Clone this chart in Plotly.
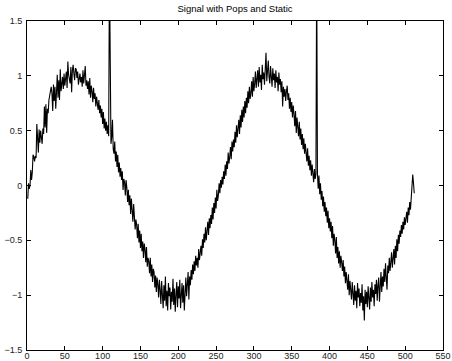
import plotly.graph_objects as go

title_text = "Signal with Pops and Static"

signal = [
    -0.12, 0.02, -0.03, 0.00, 0.14, 0.05, 0.12, 0.28, 0.26, 0.22, 0.27, 0.25, 0.56, 0.38, 0.30, 0.51,
    0.39, 0.50, 0.42, 0.38, 0.52, 0.47, 0.72, 0.53, 0.74, 0.48, 0.70, 0.66, 0.78, 0.82, 0.86, 0.90,
    0.84, 0.68, 0.92, 0.77, 0.90, 0.70, 0.85, 1.01, 0.80, 0.96, 0.78, 1.06, 0.86, 0.95, 0.99, 0.88,
    1.02, 0.91, 0.97, 1.04, 0.89, 1.13, 1.01, 0.98, 0.93, 1.08, 0.85, 1.05, 1.10, 1.02, 0.96, 1.07,
    1.06, 0.98, 1.04, 0.92, 0.97, 1.02, 0.94, 0.99, 0.90, 1.05, 0.93, 1.00, 1.09, 0.91, 0.96, 0.88,
    0.95, 0.83, 0.98, 0.80, 0.91, 0.86, 0.76, 0.89, 0.79, 0.84, 0.72, 0.81, 0.75, 0.69, 0.78, 0.66,
    0.73, 0.62, 0.70, 0.56, 0.67, 0.52, 0.61, 0.50, 0.58, 0.47, 0.55, 0.45, 2.00, 0.52, 0.38, 0.44,
    0.60, 0.33, 0.29, 0.40, 0.22, 0.31, 0.17, 0.28, 0.12, 0.21, 0.08, 0.16, 0.05, 0.13, -0.04, 0.06,
    0.03, -0.09, 0.05, -0.02, -0.15, -0.04, -0.18, -0.09, -0.26, -0.12, -0.21, -0.33, -0.17, -0.29, -0.40, -0.31,
    -0.36, -0.48, -0.35, -0.52, -0.41, -0.57, -0.44, -0.60, -0.51, -0.66, -0.53, -0.58, -0.70, -0.56, -0.74, -0.66,
    -0.69, -0.80, -0.66, -0.83, -0.72, -0.88, -0.76, -0.79, -0.93, -0.82, -0.97, -0.84, -0.90, -1.02, -0.86, -0.95,
    -1.08, -0.87, -0.99, -1.12, -0.91, -1.05, -0.83, -1.10, -0.96, -1.14, -0.89, -1.01, -0.93, -1.13, -0.97, -1.06,
    -0.85, -1.09, -0.94, -1.15, -1.00, -0.88, -1.11, -0.92, -1.03, -0.86, -1.12, -0.95, -0.89, -1.07, -0.91, -1.14,
    -0.96, -0.84, -1.01, -0.88, -0.79, -1.04, -0.83, -0.91, -0.77, -0.86, -0.72, -0.81, -0.69, -0.78, -0.64, -0.73,
    -0.66, -0.75, -0.58, -0.68, -0.61, -0.55, -0.64, -0.49, -0.57, -0.44, -0.52, -0.38, -0.50, -0.41, -0.33, -0.45,
    -0.30, -0.39, -0.27, -0.35, -0.20, -0.31, -0.16, -0.25, -0.11, -0.21, -0.04, -0.14, -0.09, 0.02, -0.07, 0.05,
    -0.02, 0.08, 0.01, 0.13, 0.06, 0.19, 0.09, 0.22, 0.15, 0.30, 0.20, 0.26, 0.35, 0.24, 0.40, 0.31,
    0.42, 0.35, 0.49, 0.39, 0.55, 0.44, 0.51, 0.60, 0.47, 0.64, 0.53, 0.69, 0.58, 0.72, 0.62, 0.77,
    0.66, 0.80, 0.71, 0.86, 0.75, 0.90, 0.79, 0.84, 0.95, 0.81, 0.99, 0.86, 0.93, 1.04, 0.89, 0.97,
    1.05, 0.90, 1.08, 0.94, 1.01, 0.87, 1.10, 0.97, 1.03, 0.92, 1.12, 1.21, 0.95, 1.06, 1.14, 0.99,
    0.93, 1.09, 1.00, 0.90, 1.07, 0.96, 1.02, 0.89, 1.05, 0.94, 0.99, 0.86, 1.03, 0.92, 0.97, 0.85,
    0.95, 0.72, 0.90, 0.81, 0.88, 0.77, 0.86, 0.91, 0.78, 0.84, 0.70, 0.80, 0.67, 0.76, 0.62, 0.73,
    0.65, 0.54, 0.68, 0.48, 0.62, 0.55, 0.45, 0.58, 0.42, 0.52, 0.37, 0.47, 0.33, 0.43, 0.29, 0.38,
    0.31, 0.22, 0.34, 0.18, 0.27, 0.14, 0.23, 0.09, 0.19, 0.12, 0.03, 0.15, 0.06, 0.10, 2.00, 0.11,
    -0.03, 0.09, -0.08, 0.02, -0.13, -0.05, -0.19, -0.10, -0.24, -0.15, -0.28, -0.20, -0.34, -0.23, -0.39, -0.30,
    -0.42, -0.33, -0.48, -0.37, -0.55, -0.44, -0.50, -0.62, -0.47, -0.66, -0.56, -0.71, -0.60, -0.75, -0.64, -0.70,
    -0.78, -0.68, -0.83, -0.74, -0.89, -0.79, -0.85, -0.95, -0.81, -1.00, -0.87, -0.93, -1.04, -0.88, -0.97, -1.09,
    -0.91, -1.05, -0.96, -1.12, -0.89, -1.02, -0.94, -1.10, -0.98, -1.07, -0.90, -1.14, -1.01, -1.23, -0.95, -1.08,
    -0.97, -1.11, -0.92, -1.04, -1.13, -0.93, -1.06, -0.88, -1.02, -0.95, -1.10, -0.90, -0.99, -0.86, -1.05, -0.91,
    -0.84, -1.06, -0.88, -0.79, -0.97, -0.83, -0.92, -0.76, -0.88, -0.71, -0.84, -0.95, -0.73, -0.80, -0.66, -0.78,
    -0.70, -0.61, -0.75, -0.64, -0.58, -0.72, -0.55, -0.66, -0.49, -0.60, -0.45, -0.53, -0.41, -0.47, -0.36, -0.44,
    -0.33, -0.40, -0.29, -0.36, -0.31, -0.24, -0.34, -0.20, -0.27, -0.15, -0.22, -0.10, -0.04, 0.10, 0.02, -0.07,
]
sample_index = list(range(1, len(signal) + 1))

x_ticks = [0, 50, 100, 150, 200, 250, 300, 350, 400, 450, 500, 550]
y_ticks = [-1.5, -1, -0.5, 0, 0.5, 1, 1.5]
y_tick_labels = ["\u22121.5", "\u22121", "\u22120.5", "0", "0.5", "1", "1.5"]

fig = go.Figure()
fig.add_trace(go.Scatter(
    x=sample_index, y=signal, mode="lines",
    line=dict(color="black", width=1.1), showlegend=False, hoverinfo="skip",
))

axis_common = dict(
    showline=True, linecolor="black", linewidth=1, mirror="ticks",
    ticks="inside", ticklen=4, tickcolor="black", tickwidth=1,
    showgrid=False, zeroline=False, automargin=False,
    tickfont=dict(family="Liberation Sans, Arial, sans-serif", size=9, color="#222"),
)

fig.update_layout(
    width=452, height=361, autosize=False,
    margin=dict(l=27, r=9, t=21, b=11),
    paper_bgcolor="white", plot_bgcolor="white",
    title=dict(text=title_text, x=0.5, xanchor="center", y=0.975, yanchor="middle",
               xref="paper", automargin=False,
               font=dict(family="Liberation Sans, Arial, sans-serif", size=9.5, color="black")),
    xaxis=dict(range=[0, 550], tickvals=x_ticks, ticklabelstandoff=-3, **axis_common),
    yaxis=dict(range=[-1.5, 1.5], tickvals=y_ticks, ticktext=y_tick_labels, ticklabelstandoff=2, **axis_common),
)

fig.write_html("out.html", config={"displayModeBar": False},
               post_script="document.body.style.margin='0';document.body.style.overflow='hidden';")
